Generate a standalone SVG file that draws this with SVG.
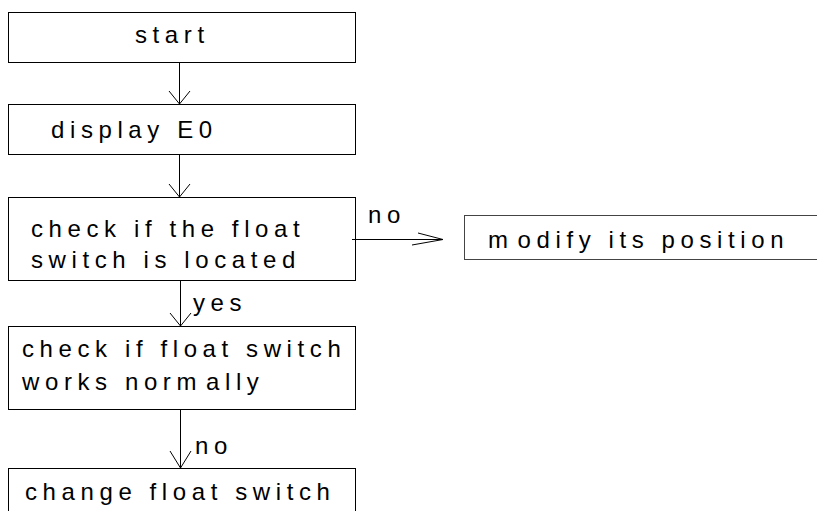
<svg xmlns="http://www.w3.org/2000/svg" width="817" height="511" viewBox="0 0 817 511">
<style>
.box{fill:#fff;stroke:#000;stroke-width:1}
.t{font-family:"Liberation Sans",Arial,sans-serif;font-size:24px;letter-spacing:5.6px;fill:#000}
.ln{fill:none;stroke:#000;stroke-width:1}
</style>
<rect width="817" height="511" fill="#fff"/>
<g id="start"><rect class="box" x="8.5" y="12.5" width="347" height="50"/><text class="t" x="135" y="43">start</text></g>
<g id="display"><rect class="box" x="8.5" y="104.5" width="347" height="50"/><text class="t" x="51" y="138">display E0</text></g>
<g id="located"><rect class="box" x="8.5" y="197.5" width="347" height="83"/><text class="t" x="31" y="237">check if the float</text><text class="t" x="31" y="268">switch is located</text></g>
<g id="modify"><rect class="box" x="464.5" y="215.5" width="370" height="44" style="stroke:#444"/><text class="t" x="488" y="248">m<tspan dx="4">odify its position</tspan></text></g>
<g id="works"><rect class="box" x="8.5" y="326.5" width="347" height="83"/><text class="t" x="22" y="357">check if float switch</text><text class="t" x="22" y="390">works norm<tspan dx="4">ally</tspan></text></g>
<g id="change"><rect class="box" x="8.5" y="468.5" width="347" height="60"/><text class="t" x="25" y="500">change float switch</text></g>
<g id="connectors">
<path class="ln" d="M179.5 62 V104 M169 91 L179.5 104 L190 91"/>
<path class="ln" d="M179.5 154 V197 M169 184 L179.5 197 L190 184"/>
<path class="ln" d="M352 239.5 H443 M418 233 L443 239.5 L412 245"/>
<text class="t" x="368" y="223">no</text>
<path class="ln" d="M180.5 280 V326 M170 313 L180.5 326 L191 313"/>
<text class="t" x="193" y="311">yes</text>
<path class="ln" d="M180.5 409 V468 M170 451 L180.5 468 L191 451"/>
<text class="t" x="195" y="454">no</text>
</g>
</svg>
